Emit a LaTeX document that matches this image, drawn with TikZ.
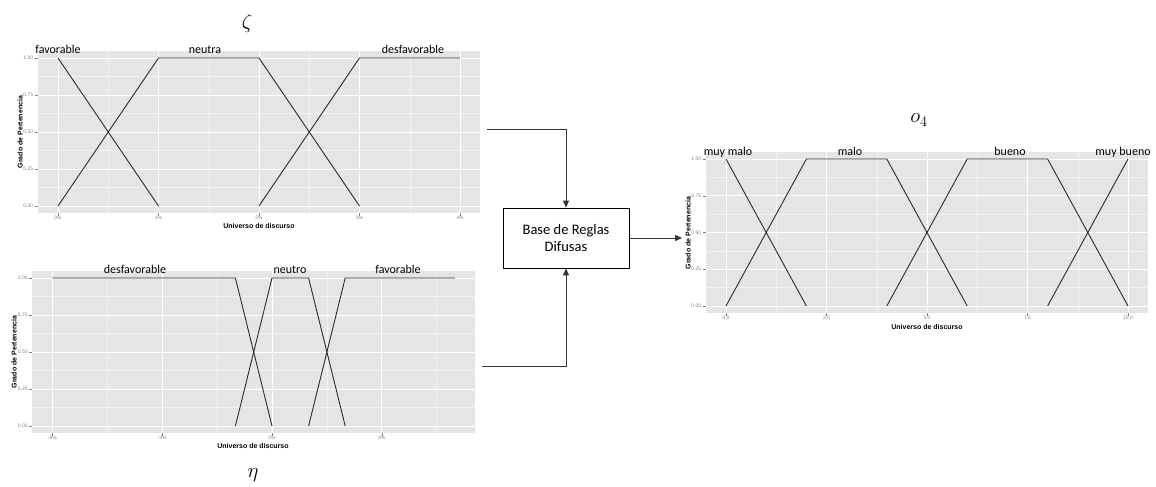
\documentclass[tikz,border=0pt]{standalone}
\usepackage{fontspec}
\setmainfont{Carlito}
\newfontfamily\arialfont{Liberation Sans}
\usetikzlibrary{arrows.meta}
\definecolor{panelbg}{HTML}{E5E5E5}
\definecolor{minorgridc}{HTML}{F2F2F2}
\definecolor{ticktext}{HTML}{808080}
\definecolor{curvec}{HTML}{2B2B2B}
\tikzset{
  panel/.style={fill=panelbg, draw=none},
  majorgrid/.style={draw=white, line width=0.8pt},
  minorgrid/.style={draw=minorgridc, line width=0.45pt},
  mf/.style={draw=curvec, line width=0.9pt, line join=round},
  setlabel/.style={font=\fontsize{12}{14}\selectfont, anchor=base, inner sep=0pt},
  ticklabel/.style={font=\arialfont\fontsize{5}{6}\selectfont, text=ticktext, inner sep=0pt},
  axistitle/.style={font=\arialfont\bfseries\fontsize{7}{8}\selectfont, inner sep=0pt},
  tickmark/.style={draw=ticktext, line width=0.4pt},
  varsym/.style={font=\fontsize{20}{24}\selectfont, inner sep=0pt},
  flow/.style={draw=black!80, line width=0.9pt, -{Triangle[length=7pt,width=6pt]}},
  rulebox/.style={draw=black, line width=0.8pt, fill=white, minimum width=126pt,
    minimum height=60pt, align=center, inner sep=0pt, font=\fontsize{14.5}{16.5}\selectfont}
}
\begin{document}
\begin{tikzpicture}[x=1pt, y=-1pt]
\useasboundingbox (0,0) rectangle (1156,487);

% ---------- zeta: membership functions ----------
\begin{scope}[shift={(58,206)}, x=100.5pt, y=148pt]
  \fill[panel] (-0.2,-0.05) rectangle (4.2,1.05);
  \foreach \u in {0.5,1.5,2.5,3.5} \draw[minorgrid] (\u,-0.05) -- (\u,1.05);
  \foreach \v in {0.125,0.375,0.625,0.875} \draw[minorgrid] (-0.2,\v) -- (4.2,\v);
  \foreach \u in {0,...,4} \draw[majorgrid] (\u,-0.05) -- (\u,1.05);
  \foreach \v in {0,0.25,0.5,0.75,1} \draw[majorgrid] (-0.2,\v) -- (4.2,\v);
  \foreach \v/\t [count=\k] in {0/0.00,0.25/0.25,0.5/0.50,0.75/0.75,1/1.00}{
    \draw[tickmark] (-0.2,\v) -- ++(-3pt,0);
    \node[ticklabel, anchor=east] (zy\k) at ([xshift=-4.5pt]-0.2,\v) {\t};
  }
  \foreach \u [count=\k] in {0,...,4}{
    \draw[tickmark] (\u,-0.05) -- ++(0,-2.5pt);
    \node[ticklabel] (zx\k) at ([yshift=-4.8pt]\u,-0.05) {\u\%};
  }
  \draw[mf] (0,1) -- (1,0);
  \draw[mf] (0,0) -- (1,1) -- (2,1) -- (3,0);
  \draw[mf] (2,0) -- (3,1) -- (4,1);
\end{scope}
\node[axistitle] (zxt) at (259,226) {Universo de discurso};
\node[axistitle, rotate=90] (zyt) at (20,132) {Grado de Pertenencia};
\node[setlabel] (zfav) at (58,54) {favorable};
\node[setlabel] (zneu) at (205,54) {neutra};
\node[setlabel] (zdes) at (413,54) {desfavorable};
\node[varsym] (zeta) at (247,23) {$\zeta$};

% ---------- eta: membership functions ----------
\begin{scope}[shift={(272,426)}, x=36.6pt, y=148pt]
  \fill[panel] (-6.55,-0.05) rectangle (5.55,1.05);
  \foreach \u in {-4.5,-1.5,1.5,4.5} \draw[minorgrid] (\u,-0.05) -- (\u,1.05);
  \foreach \v in {0.125,0.375,0.625,0.875} \draw[minorgrid] (-6.55,\v) -- (5.55,\v);
  \foreach \u in {-6,-3,0,3} \draw[majorgrid] (\u,-0.05) -- (\u,1.05);
  \foreach \v in {0,0.25,0.5,0.75,1} \draw[majorgrid] (-6.55,\v) -- (5.55,\v);
  \foreach \v/\t [count=\k] in {0/0.00,0.25/0.25,0.5/0.50,0.75/0.75,1/1.00}{
    \draw[tickmark] (-6.55,\v) -- ++(-3pt,0);
    \node[ticklabel, anchor=east] (ey\k) at ([xshift=-4.5pt]-6.55,\v) {\t};
  }
  \foreach \u [count=\k] in {-6,-3,0,3}{
    \draw[tickmark] (\u,-0.05) -- ++(0,-2.5pt);
    \node[ticklabel] (ex\k) at ([yshift=-4.8pt]\u,-0.05) {\u\%};
  }
  \draw[mf] (-6,1) -- (-1,1) -- (0,0);
  \draw[mf] (-1,0) -- (0,1) -- (1,1) -- (2,0);
  \draw[mf] (1,0) -- (2,1) -- (5,1);
\end{scope}
\node[axistitle] (ext) at (253,446) {Universo de discurso};
\node[axistitle, rotate=90] (eyt) at (14,352) {Grado de Pertenencia};
\node[setlabel] (edes) at (135,273) {desfavorable};
\node[setlabel] (eneu) at (290,273) {neutro};
\node[setlabel] (efav) at (398,273) {favorable};
\node[varsym] (eta) at (253,475) {$\eta$};

% ---------- o4: membership functions ----------
\begin{scope}[shift={(726,306)}, x=40.2pt, y=147pt]
  \fill[panel] (-0.5,-0.05) rectangle (10.5,1.05);
  \foreach \u in {1.25,3.75,6.25,8.75} \draw[minorgrid] (\u,-0.05) -- (\u,1.05);
  \foreach \v in {0.125,0.375,0.625,0.875} \draw[minorgrid] (-0.5,\v) -- (10.5,\v);
  \foreach \u in {0,2.5,5,7.5,10} \draw[majorgrid] (\u,-0.05) -- (\u,1.05);
  \foreach \v in {0,0.25,0.5,0.75,1} \draw[majorgrid] (-0.5,\v) -- (10.5,\v);
  \foreach \v/\t [count=\k] in {0/0.00,0.25/0.25,0.5/0.50,0.75/0.75,1/1.00}{
    \draw[tickmark] (-0.5,\v) -- ++(-3pt,0);
    \node[ticklabel, anchor=east] (oy\k) at ([xshift=-4.5pt]-0.5,\v) {\t};
  }
  \foreach \u/\t [count=\k] in {0/0.0,2.5/2.5,5/5.0,7.5/7.5,10/10.0}{
    \draw[tickmark] (\u,-0.05) -- ++(0,-2.5pt);
    \node[ticklabel] (ox\k) at ([yshift=-4.8pt]\u,-0.05) {\t};
  }
  \draw[mf] (0,1) -- (2,0);
  \draw[mf] (0,0) -- (2,1) -- (4,1) -- (6,0);
  \draw[mf] (4,0) -- (6,1) -- (8,1) -- (10,0);
  \draw[mf] (8,0) -- (10,1);
\end{scope}
\node[axistitle] (oxt) at (927,327) {Universo de discurso};
\node[axistitle, rotate=90] (oyt) at (688,233) {Grado de Pertenencia};
\node[setlabel] (omm) at (728,155) {muy malo};
\node[setlabel] (om) at (850,155) {malo};
\node[setlabel] (ob) at (1010,155) {bueno};
\node[setlabel] (omb) at (1123,155) {muy bueno};
\node[varsym] (ofour) at (919,120) {$o_4$};

% ---------- rule base and flow ----------
\node[rulebox] (rules) at (566,238) {Base de Reglas\\Difusas};
\coordinate (zetaout) at (487,129);
\coordinate (etaout) at (482,366);
\coordinate (oin) at (682,238);
\draw[flow] (zetaout) -| (rules.north);
\draw[flow] (etaout) -| (rules.south);
\draw[flow] (rules.east) -- (oin);
\end{tikzpicture}
\end{document}
